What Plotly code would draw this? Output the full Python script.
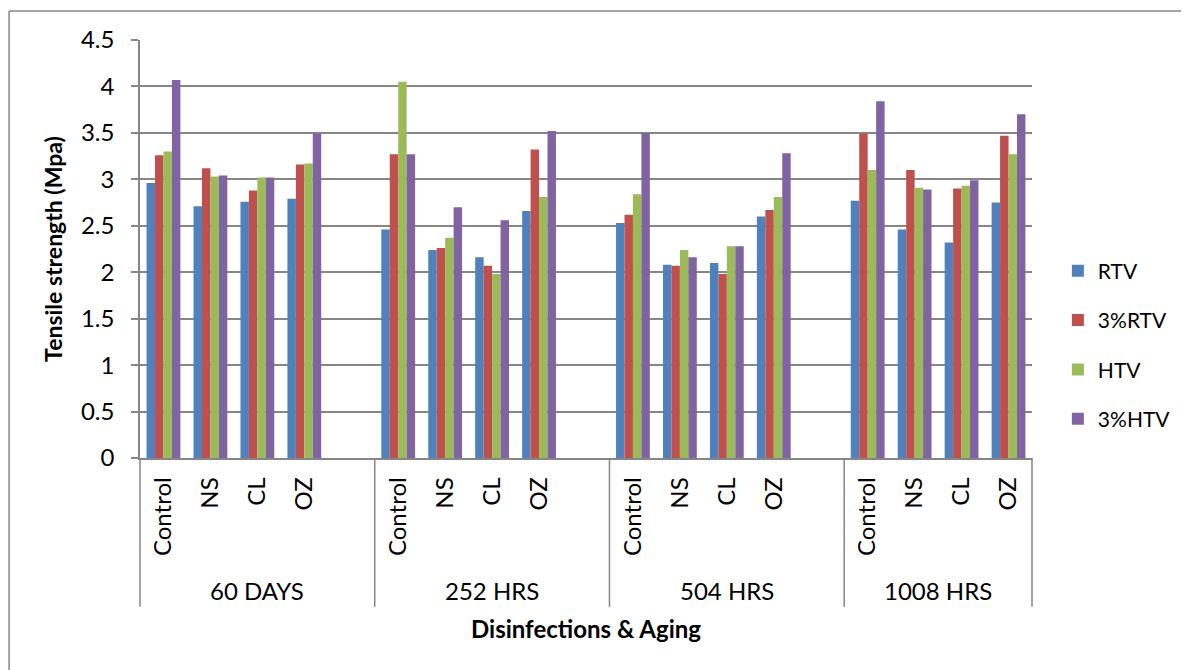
import plotly.graph_objects as go

groups = ["60 DAYS", "252 HRS", "504 HRS", "1008 HRS"]
treatments = ["Control", "NS", "CL", "OZ"]
series_names = ["RTV", "3%RTV", "HTV", "3%HTV"]
colors = ["#4F81BD", "#C0504D", "#9BBB59", "#8064A2"]

rtv = [2.96, 2.71, 2.76, 2.79, 2.46, 2.24, 2.16, 2.66, 2.53, 2.08, 2.10, 2.60, 2.77, 2.46, 2.32, 2.75]
rtv3 = [3.26, 3.12, 2.88, 3.16, 3.27, 2.26, 2.07, 3.32, 2.62, 2.07, 1.98, 2.67, 3.49, 3.10, 2.90, 3.47]
htv = [3.30, 3.03, 3.02, 3.17, 4.05, 2.37, 1.98, 2.81, 2.84, 2.24, 2.28, 2.81, 3.10, 2.91, 2.93, 3.27]
htv3 = [4.07, 3.04, 3.02, 3.49, 3.27, 2.70, 2.56, 3.52, 3.50, 2.16, 2.28, 3.28, 3.84, 2.89, 2.99, 3.70]
y_ticks = [0, 0.5, 1, 1.5, 2, 2.5, 3, 3.5, 4, 4.5]

# category slots: each group has its 4 treatments followed by an empty slot (except the last)
cat_ids, cat_text, bar_x = [], [], []
group_slots = []
for gi, g in enumerate(groups):
    start = len(cat_ids)
    for t in treatments:
        cid = f"{g}|{t}"
        cat_ids.append(cid)
        cat_text.append(t)
        bar_x.append(cid)
    if gi < len(groups) - 1:
        cat_ids.append(f"{g}|blank")
        cat_text.append("")
    group_slots.append((start, len(cat_ids) - 1))

FONT = "Lato, Calibri, Carlito, sans-serif"
GRAY = "#868686"

fig = go.Figure()
for name, vals, col in zip(series_names, [rtv, rtv3, htv, htv3], colors):
    fig.add_trace(go.Bar(x=bar_x, y=vals, name=name, marker_color=col,
                         marker_line_width=0, legendgroup=name))

shapes = []
# group separators under the axis
for gi, (s, e) in enumerate(group_slots):
    xr, xv = ("x", e + 0.5)
    if gi == len(group_slots) - 1:
        xr, xv = ("paper", 1)
    shapes.append(dict(type="line", xref=xr, yref="paper", x0=xv, x1=xv,
                       y0=-0.356, y1=0, line=dict(color=GRAY, width=1.5)))
shapes.append(dict(type="line", xref="paper", yref="paper", x0=0, x1=0,
                   y0=-0.356, y1=0, line=dict(color=GRAY, width=1.5)))
# chart-area border (left and top edges visible)
shapes.append(dict(type="line", xref="paper", yref="paper", x0=-0.1468, x1=-0.1468,
                   y0=-1, y1=1.0694, line=dict(color=GRAY, width=1.5)))
shapes.append(dict(type="line", xref="paper", yref="paper", x0=-0.1468, x1=2,
                   y0=1.0694, y1=1.0694, line=dict(color=GRAY, width=1.5)))

annotations = []
for g, (s, e) in zip(groups, group_slots):
    annotations.append(dict(text=g, x=(s + e) / 2, xref="x", y=-0.318, yref="paper",
                            showarrow=False, xanchor="center", yanchor="middle",
                            font=dict(family=FONT, size=24, color="black")))

fig.update_layout(
    width=1181, height=662,
    margin=dict(l=132, r=157, t=32, b=212),
    paper_bgcolor="white", plot_bgcolor="white",
    barmode="group", bargap=0.28, bargroupgap=0,
    font=dict(family=FONT, size=24, color="black"),
    showlegend=True,
    legend=dict(x=1.029, xanchor="left", y=0.27, yanchor="middle",
                font=dict(family=FONT, size=21), tracegroupgap=19,
                bgcolor="rgba(0,0,0,0)"),
    shapes=shapes,
    annotations=annotations,
)
fig.update_xaxes(
    type="category", categoryorder="array", categoryarray=cat_ids,
    range=[-0.5, len(cat_ids) - 0.5],
    tickmode="array", tickvals=cat_ids, ticktext=cat_text,
    tickangle=-90, ticks="", showline=True, linecolor=GRAY, linewidth=1.5,
    showgrid=False, ticklabelstandoff=8,
    tickfont=dict(family=FONT, size=24),
    title=dict(text="<b>Disinfections & Aging</b>", standoff=66,
               font=dict(family=FONT, size=24)),
)
fig.update_yaxes(
    range=[0, 4.5], tickmode="array", tickvals=y_ticks,
    ticktext=[f"{v:g}" for v in y_ticks],
    ticks="outside", ticklen=7, tickcolor=GRAY, tickwidth=1.5,
    showline=True, linecolor=GRAY, linewidth=1.5,
    showgrid=True, gridcolor=GRAY, gridwidth=1.5, zeroline=False,
    ticklabelstandoff=12,
    tickfont=dict(family=FONT, size=24),
    title=dict(text="<b>Tensile strength (Mpa)</b>", standoff=12,
               font=dict(family=FONT, size=23)),
)

fig.write_html("out.html")
